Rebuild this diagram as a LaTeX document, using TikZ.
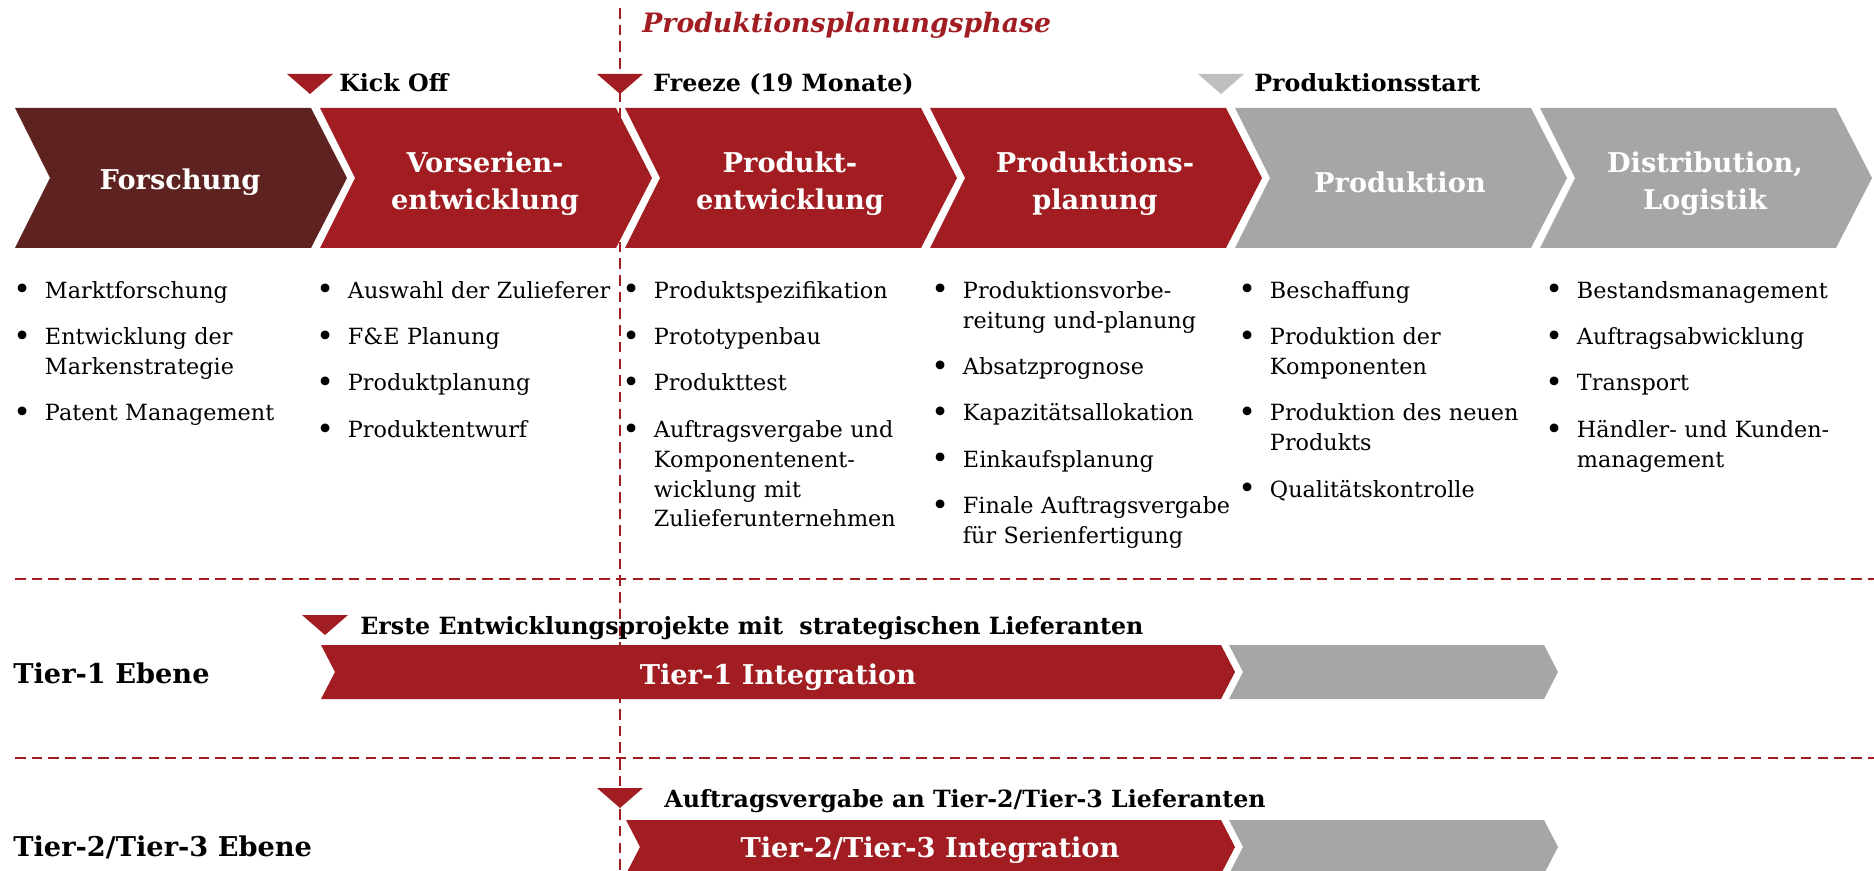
\documentclass[tikz,border=0pt]{standalone}
\usepackage{fontspec}
\usepackage{enumitem}
\setmainfont{DejaVu Serif}
\usetikzlibrary{positioning}

\definecolor{phasered}{HTML}{A11D21}
\definecolor{phasebrown}{HTML}{5E2320}
\definecolor{phasegray}{HTML}{A6A6A6}
\definecolor{markgray}{HTML}{BFBFBF}

\setlist[itemize]{label={\makebox[0pt][l]{\raisebox{-1pt}{\fontsize{17}{17}\selectfont\textbullet}}}, leftmargin=18pt, labelwidth=8pt, labelsep=10pt, align=left,
  topsep=0pt, partopsep=0pt, parsep=0pt, itemsep=9.4pt}

\newcommand{\PhaseArrow}[2]{\fill[#2] (#1,108) -- (#1+296,108) -- (#1+332,178) -- (#1+296,248) -- (#1,248) -- (#1+35,178) -- cycle;}
\newcommand{\TierBar}[4]{\fill[#4] (#1,#3) -- (#2,#3) -- (#2+14,#3+27) -- (#2,#3+54) -- (#1,#3+54) -- (#1+14,#3+27) -- cycle;}
\newcommand{\MileStone}[2]{\fill[#2] ($(#1)+(-23,-20)$) -- ($(#1)+(23,-20)$) -- (#1) -- cycle;}

\tikzset{
  phase/.style={text=white, align=center, inner sep=0pt, font=\fontsize{15.5}{21}\selectfont\bfseries},
  milestone/.style={anchor=base west, inner sep=0pt, font=\fontsize{13.5}{16}\selectfont\bfseries},
  tasks/.style={anchor=north west, inner sep=0pt, text width=190pt, align=left, font=\fontsize{12.7}{17}\selectfont},
  level/.style={anchor=west, inner sep=0pt, font=\fontsize{15.5}{20}\selectfont\bfseries},
  divider/.style={phasered, line width=1pt, dash pattern=on 6pt off 3.5pt},
}
\usetikzlibrary{calc}

\begin{document}
\begin{tikzpicture}[x=0.02cm, y=-0.02cm]
        \useasboundingbox (0,0) rectangle (1874,871);

        \coordinate (freezetop) at (620,8);
        \coordinate (freezebot) at (620,871);
        \draw[divider, line width=1.2pt] (freezetop) -- (freezebot);

        \coordinate (tierAl) at (15,579);
        \coordinate (tierAr) at (1874,579);
        \coordinate (tierBl) at (15,758);
        \coordinate (tierBr) at (1874,758);
        \draw[divider] (tierAl) -- (tierAr);
        \draw[divider] (tierBl) -- (tierBr);

        \PhaseArrow{15}{phasebrown}
        \PhaseArrow{320}{phasered}
        \PhaseArrow{625}{phasered}
        \PhaseArrow{930}{phasered}
        \PhaseArrow{1235}{phasegray}
        \PhaseArrow{1540}{phasegray}

        \TierBar{321}{1221}{645}{phasered}
        \TierBar{1229}{1544}{645}{phasegray}
        \TierBar{626}{1221}{820}{phasered}
        \TierBar{1229}{1544}{820}{phasegray}

        \coordinate (kick) at (310,94);
        \coordinate (freeze) at (620,94);
        \coordinate (sop) at (1221,94);
        \coordinate (erste) at (325,635);
        \coordinate (auftrag) at (620,808);

        \MileStone{kick}{phasered}
        \MileStone{freeze}{phasered}
        \MileStone{sop}{markgray}
        \MileStone{erste}{phasered}
        \MileStone{auftrag}{phasered}

        \node[anchor=base west, inner sep=0pt, text=phasered, font=\fontsize{15.2}{18}\selectfont\bfseries\itshape] (planphase) at (642,33) {Produktionsplanungsphase};

        \node[milestone] (kicklbl) at (339,92) {Kick Off};
        \node[milestone] (freezelbl) at (653,92) {Freeze (19 Monate)};
        \node[milestone] (soplbl) at (1254,92) {Produktionsstart};
        \node[milestone] (erstelbl) at (360,634) {Erste Entwicklungsprojekte mit\ \ strategischen Lieferanten};
        \node[milestone] (auftraglbl) at (664,807) {Auftragsvergabe an Tier-2/Tier-3 Lieferanten};

        \node[phase] (forschung) at (180,182) {Forschung};
        \node[phase] (vorserien) at (485,184) {Vorserien-\\entwicklung};
        \node[phase] (produkt) at (790,184) {Produkt-\\entwicklung};
        \node[phase] (planung) at (1095,184) {Produktions-\\planung};
        \node[phase] (produktion) at (1400,182) {Produktion};
        \node[phase] (distribution) at (1705,184) {Distribution,\\Logistik};

        \node[tasks] (forschungtasks) at (13,268) {\begin{itemize}
            \item Marktforschung
            \item Entwicklung der\\Markenstrategie
            \item Patent Management
        \end{itemize}};
        \node[tasks] (vorserientasks) at (316,268) {\begin{itemize}
            \item Auswahl der Zulieferer
            \item F\&E Planung
            \item Produktplanung
            \item Produktentwurf
        \end{itemize}};
        \node[tasks] (produkttasks) at (622,268) {\begin{itemize}
            \item Produktspezifikation
            \item Prototypenbau
            \item Produkttest
            \item Auftragsvergabe und\\Komponentenent-\\wicklung mit\\Zulieferunternehmen
        \end{itemize}};
        \node[tasks] (planungtasks) at (931,268) {\begin{itemize}
            \item Produktionsvorbe-\\reitung und-planung
            \item Absatzprognose
            \item Kapazitätsallokation
            \item Einkaufsplanung
            \item Finale Auftragsvergabe\\für Serienfertigung
        \end{itemize}};
        \node[tasks] (produktiontasks) at (1238,268) {\begin{itemize}
            \item Beschaffung
            \item Produktion der\\Komponenten
            \item Produktion des neuen\\Produkts
            \item Qualitätskontrolle
        \end{itemize}};
        \node[tasks] (distributiontasks) at (1545,268) {\begin{itemize}
            \item Bestandsmanagement
            \item Auftragsabwicklung
            \item Transport
            \item Händler- und Kunden-\\management
        \end{itemize}};

        \node[level] (tierone) at (13,673) {Tier-1 Ebene};
        \node[level] (tiertwo) at (13,847) {Tier-2/Tier-3 Ebene};
        \node[phase] (tieroneint) at (778,677) {Tier-1 Integration};
        \node[phase] (tiertwoint) at (930,850) {Tier-2/Tier-3 Integration};
\end{tikzpicture}
\end{document}
